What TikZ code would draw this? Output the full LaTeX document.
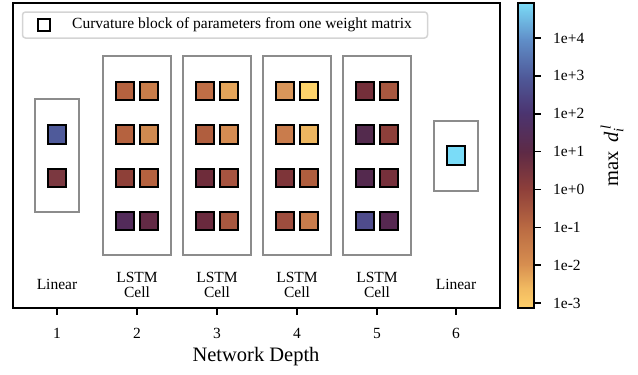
\documentclass[tikz,border=0pt]{standalone}
\usepackage{amsmath}
\usepackage{fontspec}
\setmainfont{Liberation Serif}
\definecolor{gbox}{HTML}{8C8C8C}
\definecolor{lgbox}{HTML}{D4D4D4}
% block colours
\definecolor{bAa}{HTML}{4F5A9A}\definecolor{bAb}{HTML}{7B3840}
\definecolor{bBa}{HTML}{B5623F}\definecolor{bBb}{HTML}{C97D4A}
\definecolor{bBc}{HTML}{B5623F}\definecolor{bBd}{HTML}{D08A50}
\definecolor{bBe}{HTML}{8E4038}\definecolor{bBf}{HTML}{B5623F}
\definecolor{bBg}{HTML}{532B5A}\definecolor{bBh}{HTML}{622A45}
\definecolor{bCa}{HTML}{BF6E46}\definecolor{bCb}{HTML}{E3A45A}
\definecolor{bCc}{HTML}{B05E3E}\definecolor{bCd}{HTML}{D58C52}
\definecolor{bCe}{HTML}{6E2C3A}\definecolor{bCf}{HTML}{A75440}
\definecolor{bCg}{HTML}{6A2A3E}\definecolor{bCh}{HTML}{A85840}
\definecolor{bDa}{HTML}{D9965A}\definecolor{bDb}{HTML}{FDD36A}
\definecolor{bDc}{HTML}{C97C4C}\definecolor{bDd}{HTML}{EDB660}
\definecolor{bDe}{HTML}{7E3539}\definecolor{bDf}{HTML}{B05E3E}
\definecolor{bDg}{HTML}{9E4D3E}\definecolor{bDh}{HTML}{C97C4C}
\definecolor{bEa}{HTML}{742F3A}\definecolor{bEb}{HTML}{A85840}
\definecolor{bEc}{HTML}{532A4D}\definecolor{bEd}{HTML}{8D3F3A}
\definecolor{bEe}{HTML}{54294E}\definecolor{bEf}{HTML}{76303B}
\definecolor{bEg}{HTML}{4F4C8C}\definecolor{bEh}{HTML}{562851}
\definecolor{bFa}{HTML}{7ADCF8}
% colorbar stops
\definecolor{cs0}{HTML}{FFD06A}\definecolor{cs1}{HTML}{F0B860}
\definecolor{cs2}{HTML}{D89050}\definecolor{cs3}{HTML}{B86842}
\definecolor{cs4}{HTML}{8E3F3A}\definecolor{cs5}{HTML}{5E2A45}
\definecolor{cs6}{HTML}{4B3470}\definecolor{cs7}{HTML}{4F5A9A}
\definecolor{cs8}{HTML}{6191CA}\definecolor{cs9}{HTML}{7BDCF7}
\tikzset{
  sq/.style={draw=black, line width=2.2pt, minimum size=18.5pt, inner sep=0pt},
  grp/.style={draw=gbox, line width=2pt},
  lbl/.style={font=\fontsize{15.5}{16.5}\selectfont, align=center, inner sep=0pt},
  tk/.style={line width=1.6pt},
}
\begin{document}
\begin{tikzpicture}[x=1pt,y=-1pt]
\useasboundingbox (0,0) rectangle (638,375);
% axes frame
\draw[line width=1.6pt] (13,3) rectangle (500,308);
% legend
\node[draw=lgbox, line width=1.5pt, rounded corners=3pt, minimum width=405pt, minimum height=26pt, inner sep=0pt] (leg) at (225,25) {};
\node[draw=black, line width=2pt, minimum size=12pt, inner sep=0pt, fill=white] (legsq) at (43.5,24.5) {};
\node[anchor=west, lbl] (legtxt) at (72,24.5) {Curvature block of parameters from one weight matrix};
% group boxes
\draw[grp] (35,99) rectangle (79,212);
\draw[grp] (103,56) rectangle (171,255);
\draw[grp] (183,56) rectangle (251,255);
\draw[grp] (263,56) rectangle (331,255);
\draw[grp] (343,56) rectangle (411,255);
\draw[grp] (434,121) rectangle (478,191);
% linear 1
\node[sq, fill=bAa] (a1) at (57,134.5) {};
\node[sq, fill=bAb] (a2) at (57,178) {};
% LSTM blocks
\foreach \g/\cx in {B/137, C/217, D/297, E/377}{
  \node[sq, fill=b\g a] (\g1) at (\cx-12,91) {};
  \node[sq, fill=b\g b] (\g2) at (\cx+12,91) {};
  \node[sq, fill=b\g c] (\g3) at (\cx-12,134.5) {};
  \node[sq, fill=b\g d] (\g4) at (\cx+12,134.5) {};
  \node[sq, fill=b\g e] (\g5) at (\cx-12,178) {};
  \node[sq, fill=b\g f] (\g6) at (\cx+12,178) {};
  \node[sq, fill=b\g g] (\g7) at (\cx-12,221) {};
  \node[sq, fill=b\g h] (\g8) at (\cx+12,221) {};
}
% linear 6
\node[sq, fill=bFa] (f1) at (456,155.5) {};
% block labels
\node[lbl] (l1) at (57,284) {Linear};
\foreach \i/\cx in {2/137,3/217,4/297,5/377}{
  \node[lbl] (lA\i) at (\cx,277) {LSTM};
  \node[lbl] (lB\i) at (\cx,292.5) {Cell};
}
\node[lbl] (l6) at (456,284) {Linear};
% x ticks
\foreach \i/\cx in {1/57,2/137,3/217,4/297,5/377,6/456}{
  \draw[tk] (\cx,308) -- (\cx,315);
  \node[lbl] (t\i) at (\cx,333) {\i};
}
\node[font=\fontsize{20.5}{22}\selectfont, inner sep=0pt] (xlab) at (256,357) {Network Depth};
% colorbar
\foreach \ya/\yb/\ca/\cb in {308/286.65/cs0/cs1, 286.65/265.3/cs1/cs2, 265.3/225.65/cs2/cs3, 225.65/189.05/cs3/cs4, 189.05/152.45/cs4/cs5, 152.45/112.8/cs5/cs6, 112.8/76.2/cs6/cs7, 76.2/38.075/cs7/cs8, 38.075/3/cs8/cs9}{
  \shade[bottom color=\ca, top color=\cb] (518,\ya+0.4) rectangle (534,\yb-0.4);
}
\draw[line width=1.6pt] (518,3) rectangle (534,308);
\foreach \v/\yy in {1e-3/303, 1e-2/265.1, 1e-1/227.3, 1e+0/189.4, 1e+1/151.6, 1e+2/113.7, 1e+3/75.9, 1e+4/38}{
  \draw[tk] (534,\yy) -- (541,\yy);
  \node[lbl, anchor=west] at (553,\yy) {\v};
}
\node[font=\fontsize{20.5}{22}\selectfont, rotate=90, inner sep=0pt] (clab) at (612,156) {max\, \textit{d}$^{\,\textit{l}}_{\textit{i}}$};
\end{tikzpicture}
\end{document}
